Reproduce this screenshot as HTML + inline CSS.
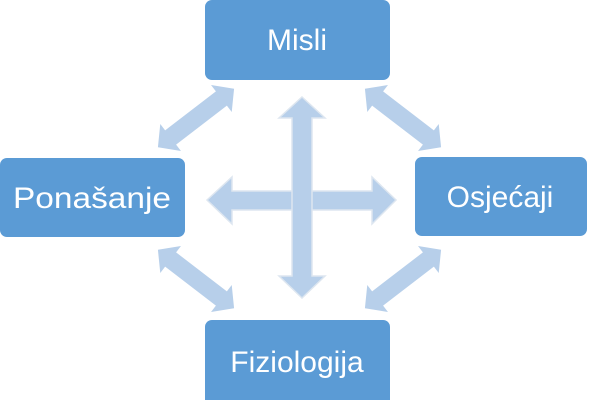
<!DOCTYPE html>
<html><head><meta charset="utf-8"><style>
html,body{margin:0;padding:0;background:#fff;width:600px;height:400px;overflow:hidden}
</style></head><body>
<svg width="600" height="400" viewBox="0 0 600 400" xmlns="http://www.w3.org/2000/svg">
<defs>
<path id="d" d="M-48,0 L-32,-17 L-32,-9 L32,-9 L32,-17 L48,0 L32,17 L32,9 L-32,9 L-32,17 Z" fill="#b7cfea"/>
</defs>
<use href="#d" transform="translate(196,118) rotate(-37.5)"/>
<use href="#d" transform="translate(403,118) rotate(37.5)"/>
<use href="#d" transform="translate(196,279) rotate(37.5)"/>
<use href="#d" transform="translate(403,279) rotate(-37.5)"/>
<path d="M207,200 L232,177 L232,191 L372,191 L372,177 L396,200 L372,224 L372,210 L232,210 L232,224 Z" fill="#b7cfea" stroke="#dde6f0" stroke-width="1.5"/>
<path d="M302,97 L325,118 L312,118 L312,276 L325,276 L302,298 L279,276 L292,276 L292,118 L279,118 Z" fill="#b7cfea" stroke="#dde6f0" stroke-width="1.5"/>
<rect x="205" y="0" width="185" height="80" rx="7" fill="#5b9bd5"/>
<rect x="205" y="320" width="185" height="90" rx="7" fill="#5b9bd5"/>
<rect x="0" y="158" width="185" height="79" rx="7" fill="#5b9bd5"/>
<rect x="415" y="157" width="172" height="79" rx="7" fill="#5b9bd5"/>
<g font-family="'Liberation Sans',sans-serif" font-size="30" fill="#fff" text-anchor="middle">
<text x="297" y="50">Misli</text>
<text x="297" y="372">Fiziologija</text>
<text x="92" y="208" textLength="158" lengthAdjust="spacingAndGlyphs">Ponašanje</text>
<text x="500" y="207">Osjećaji</text>
</g>
</svg>
</body></html>
